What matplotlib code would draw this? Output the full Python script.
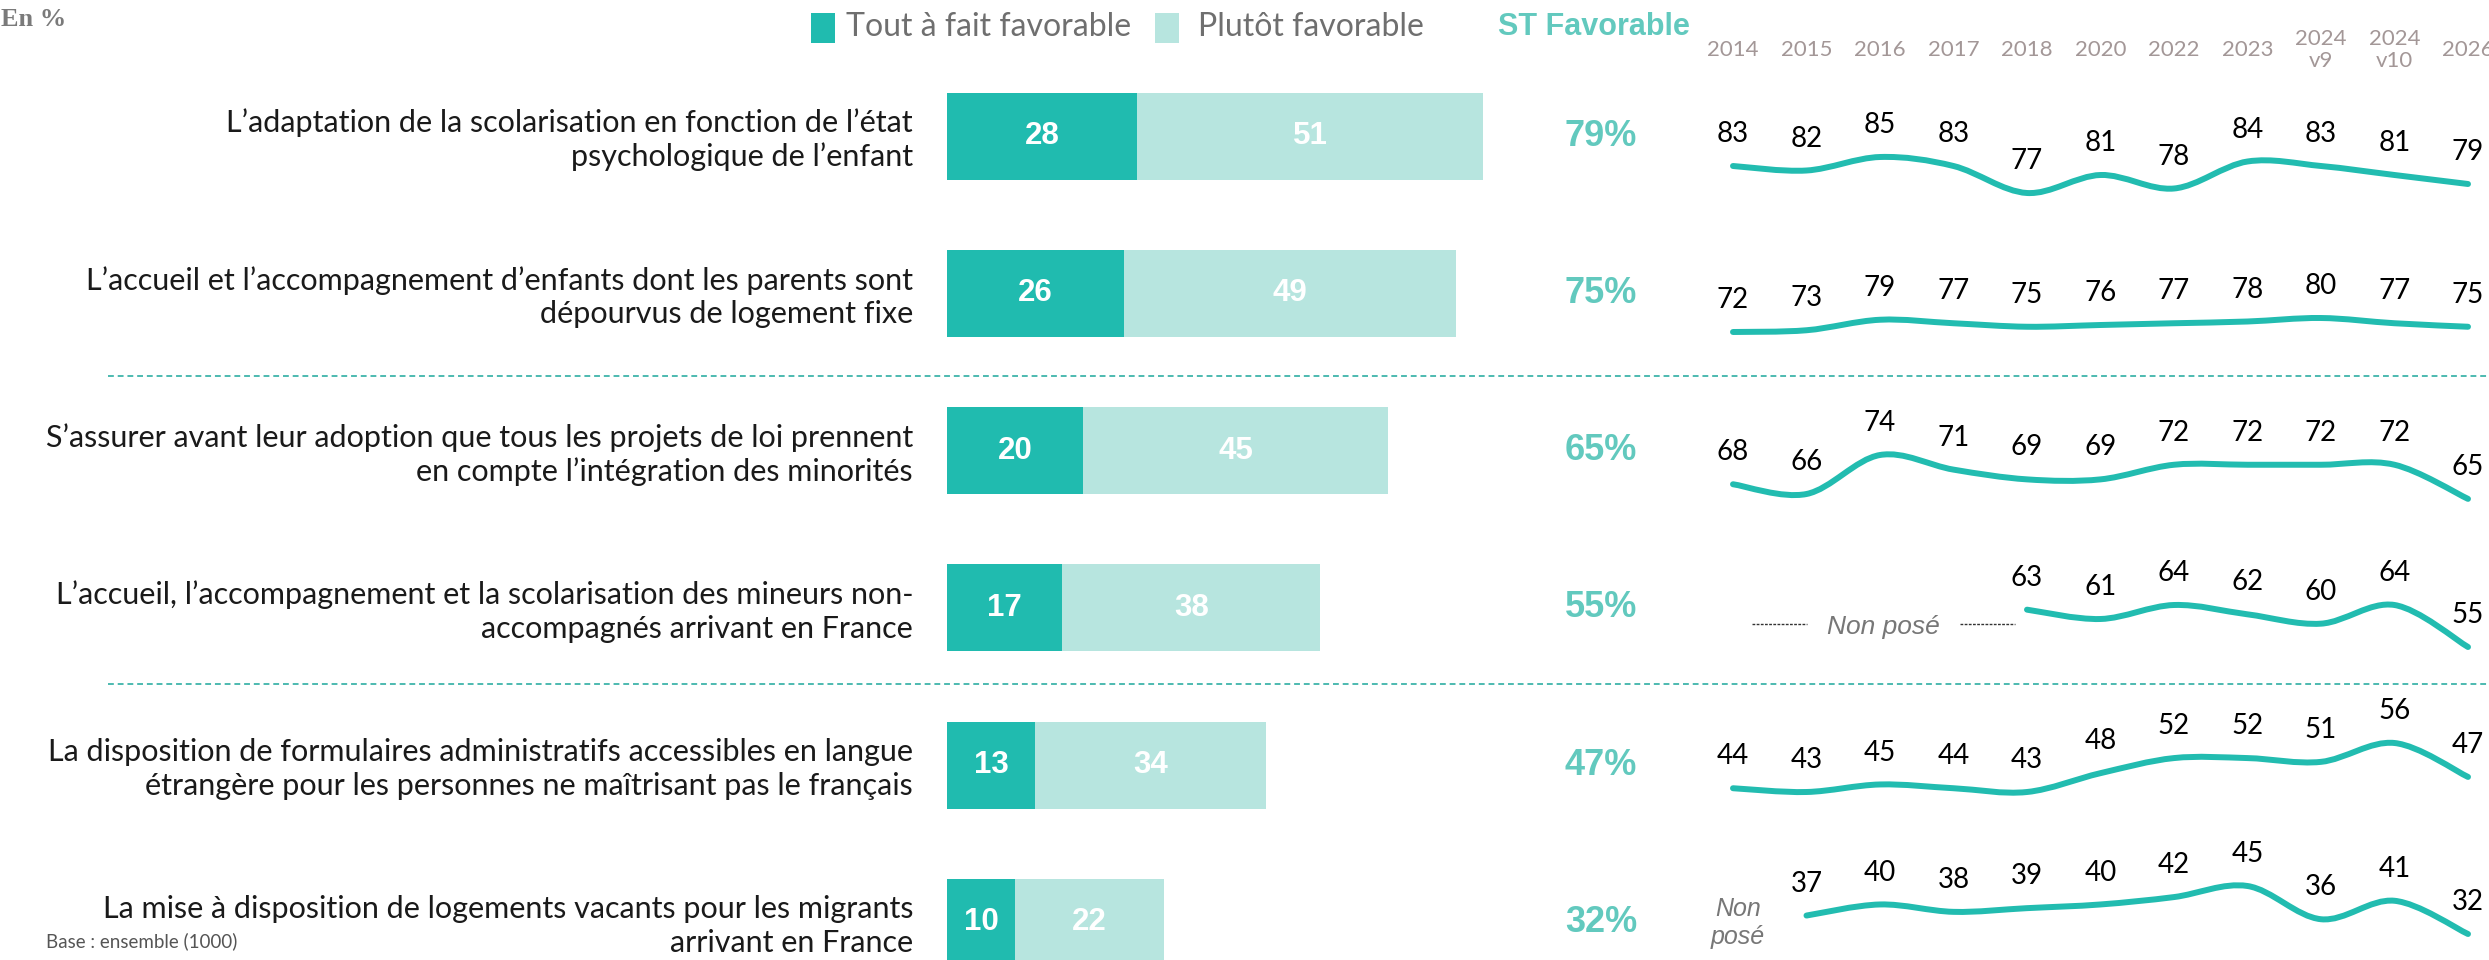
import matplotlib
matplotlib.use('Agg')
import matplotlib.pyplot as plt
from matplotlib.path import Path
from matplotlib.patches import PathPatch, Rectangle
import matplotlib.transforms as mtransforms

# ---------------- DATA ----------------
items = [
    "L\u2019adaptation de la scolarisation en fonction de l\u2019\u00e9tat\npsychologique de l\u2019enfant",
    "L\u2019accueil et l\u2019accompagnement d\u2019enfants dont les parents sont\nd\u00e9pourvus de logement fixe",
    "S\u2019assurer avant leur adoption que tous les projets de loi prennent\nen compte l\u2019int\u00e9gration des minorit\u00e9s",
    "L\u2019accueil, l\u2019accompagnement et la scolarisation des mineurs non-\naccompagn\u00e9s arrivant en France",
    "La disposition de formulaires administratifs accessibles en langue\n\u00e9trang\u00e8re pour les personnes ne ma\u00eetrisant pas le fran\u00e7ais",
    "La mise \u00e0 disposition de logements vacants pour les migrants\narrivant en France",
]
tout_fait = [28, 26, 20, 17, 13, 10]
plutot = [51, 49, 45, 38, 34, 22]
st_favorable = [79, 75, 65, 55, 47, 32]

years = ['2014', '2015', '2016', '2017', '2018', '2020', '2022', '2023',
         '2024\nv9', '2024\nv10', '2026']
trend_1 = [83, 82, 85, 83, 77, 81, 78, 84, 83, 81, 79]
trend_2 = [72, 73, 79, 77, 75, 76, 77, 78, 80, 77, 75]
trend_3 = [68, 66, 74, 71, 69, 69, 72, 72, 72, 72, 65]
trend_4 = [None, None, None, None, 63, 61, 64, 62, 60, 64, 55]
trend_5 = [44, 43, 45, 44, 43, 48, 52, 52, 51, 56, 47]
trend_6 = [None, 37, 40, 38, 39, 40, 42, 45, 36, 41, 32]
trends = [trend_1, trend_2, trend_3, trend_4, trend_5, trend_6]

legend_labels = ['Tout \u00e0 fait favorable', 'Plut\u00f4t favorable']
st_title = 'ST Favorable'
non_pose = 'Non pos\u00e9'
base_note = 'Base : ensemble (1000)'
unit_note = 'En %'

# ---------------- STYLE / LAYOUT ----------------
DARK = '#20bbaf'
LIGHT = '#b7e5df'
LINE = '#22bcb0'
STCOL = '#62c9be'
GREY_TXT = '#6f6f6f'
YEAR_COL = '#a39797'
TXT = '#1a1a1a'

W, H = 2489, 960
fig = plt.figure(figsize=(W / 100, H / 100), dpi=100)

ov = fig.add_axes([0, 0, 1, 1])
ov.set_xlim(0, W)
ov.set_ylim(H, 0)
ov.axis('off')

row_c0, row_step = 136, 157.3      # px centre of first row, spacing
bar_left_px, px_per_unit = 947, 6.79
bar_right_px = 1500
bar_h = 87 / row_step
line_gap = 34 / row_step            # spacing between the two lines of a label
label_shift = 4 / row_step

ax_b = fig.add_axes([bar_left_px / W, 0, (bar_right_px - bar_left_px) / W, 1])
ax_b.set_xlim(0, (bar_right_px - bar_left_px) / px_per_unit)
ax_b.set_ylim((H - row_c0) / row_step, -row_c0 / row_step)
ax_b.axis('off')

rows = list(range(len(items)))
ax_b.barh(rows, tout_fait, height=bar_h, color=DARK, edgecolor='none')
ax_b.barh(rows, plutot, left=tout_fait, height=bar_h, color=LIGHT, edgecolor='none')

NUMFONT = ['Liberation Sans', 'DejaVu Sans']
LABFONT = ['Lato', 'DejaVu Sans']
for i in rows:
    ax_b.text(tout_fait[i] / 2, i, str(tout_fait[i]), ha='center', va='center',
              color='white', fontsize=22.5, fontweight='bold', family=NUMFONT)
    ax_b.text(tout_fait[i] + plutot[i] / 2, i, str(plutot[i]), ha='center', va='center',
              color='white', fontsize=22.5, fontweight='bold', family=NUMFONT)
    lines = items[i].split('\n')
    n = len(lines)
    for k, ln in enumerate(lines):
        yk = i + label_shift + (k - (n - 1) / 2) * line_gap
        ax_b.text((913 - bar_left_px) / px_per_unit, yk, ln, ha='right',
                  va='center', color=TXT, fontsize=22, family=LABFONT,
                  clip_on=False)
    ax_b.text((1601 - bar_left_px) / px_per_unit, i, f'{st_favorable[i]}%', ha='center',
              va='center', color=STCOL, fontsize=26, fontweight='bold',
              family=NUMFONT, clip_on=False)

# ---------------- TREND LINES ----------------
x0_px, dx_px = 1733, 73.5
lx_left, lx_right = 1690, W
xlim = ((lx_left - x0_px) / dx_px, (lx_right - x0_px) / dx_px)

# per-row vertical scale anchors: (value, px) for top and bottom
anchors = [((85, 157), (77, 193)),
           ((80, 318), (72, 332)),
           ((74, 455), (66, 494)),
           ((64, 605), (55, 647)),
           ((56, 743), (43, 792)),
           ((45, 886), (32, 934))]


def smooth_path(xs, ys):
    pts = list(zip(xs, ys))
    n = len(pts)
    verts = [pts[0]]
    codes = [Path.MOVETO]
    for k in range(n - 1):
        p0 = pts[k - 1] if k > 0 else pts[k]
        p1 = pts[k]
        p2 = pts[k + 1]
        p3 = pts[k + 2] if k + 2 < n else pts[k + 1]
        c1 = (p1[0] + (p2[0] - p0[0]) / 6, p1[1] + (p2[1] - p0[1]) / 6)
        c2 = (p2[0] - (p3[0] - p1[0]) / 6, p2[1] - (p3[1] - p1[1]) / 6)
        verts += [c1, c2, p2]
        codes += [Path.CURVE4] * 3
    return Path(verts, codes)


line_axes = []
for r, vals in enumerate(trends):
    c = row_c0 + r * row_step
    top, bot = c - 78, c + 78
    (vmax, pmax), (vmin, pmin) = anchors[r]
    s = (pmin - pmax) / (vmax - vmin)
    ytop = vmax + (pmax - top) / s
    ybot = ytop - (bot - top) / s
    ax = fig.add_axes([lx_left / W, 1 - bot / H, (lx_right - lx_left) / W, (bot - top) / H])
    ax.set_xlim(*xlim)
    ax.set_ylim(ybot, ytop)
    ax.axis('off')
    xs = [i for i, v in enumerate(vals) if v is not None]
    ys = [v for v in vals if v is not None]
    ax.add_patch(PathPatch(smooth_path(xs, ys), facecolor='none', edgecolor=LINE,
                           lw=4.3, capstyle='round', joinstyle='round', clip_on=False))
    for x, y in zip(xs, ys):
        ax.annotate(str(y), (x, y), xytext=(0, 23), textcoords='offset points',
                    ha='center', va='center', fontsize=20, color='black',
                    family=LABFONT, annotation_clip=False)
    line_axes.append(ax)

tr = mtransforms.blended_transform_factory(line_axes[0].transData, ov.transData)
for i, yl in enumerate(years):
    ov.text(i, 50, yl, transform=tr, ha='center', va='center', fontsize=16,
            color=YEAR_COL, family=LABFONT, linespacing=1.1)

# Non posé marks
tr4 = mtransforms.blended_transform_factory(line_axes[3].transData, ov.transData)
ov.text(2.05, 627, non_pose, transform=tr4, ha='center', va='center', fontsize=19,
        style='italic', color='#777777', family=NUMFONT)
ov.plot([0.26, 1.0], [624, 624], transform=tr4, color='#333333', lw=1.0,
        ls=(0, (2, 1)))
ov.plot([3.09, 3.84], [624, 624], transform=tr4, color='#333333', lw=1.0,
        ls=(0, (2, 1)))
tr6 = mtransforms.blended_transform_factory(line_axes[5].transData, ov.transData)
ov.text(0.07, 923, 'Non\npos\u00e9', transform=tr6, ha='center', va='center',
        fontsize=18, style='italic', color='#777777', family=NUMFONT, linespacing=1.2)

# separators
for ysep in (376, 684):
    ov.plot([108, W], [ysep, ysep], color='#4dbab0', lw=1.4, ls=(0, (3, 2)))

# legend
ov.add_patch(Rectangle((811, 13), 24, 30, color=DARK, lw=0))
ov.text(846, 27, legend_labels[0], ha='left', va='center', fontsize=23,
        color=GREY_TXT, family=LABFONT)
ov.add_patch(Rectangle((1155, 13), 24, 30, color=LIGHT, lw=0))
ov.text(1198, 27, legend_labels[1], ha='left', va='center', fontsize=23,
        color=GREY_TXT, family=LABFONT)
ov.text(1498, 27, st_title, ha='left', va='center', fontsize=22, fontweight='bold',
        color=STCOL, family=NUMFONT)

ov.text(1, 19, unit_note, ha='left', va='center', fontsize=19, fontweight='bold',
        color='#7a7a7a', family=['Liberation Serif', 'DejaVu Serif'])
ov.text(46, 941, base_note, ha='left', va='center', fontsize=13.5, color='#555555',
        family=LABFONT)

fig.savefig('out.png', dpi=100)
